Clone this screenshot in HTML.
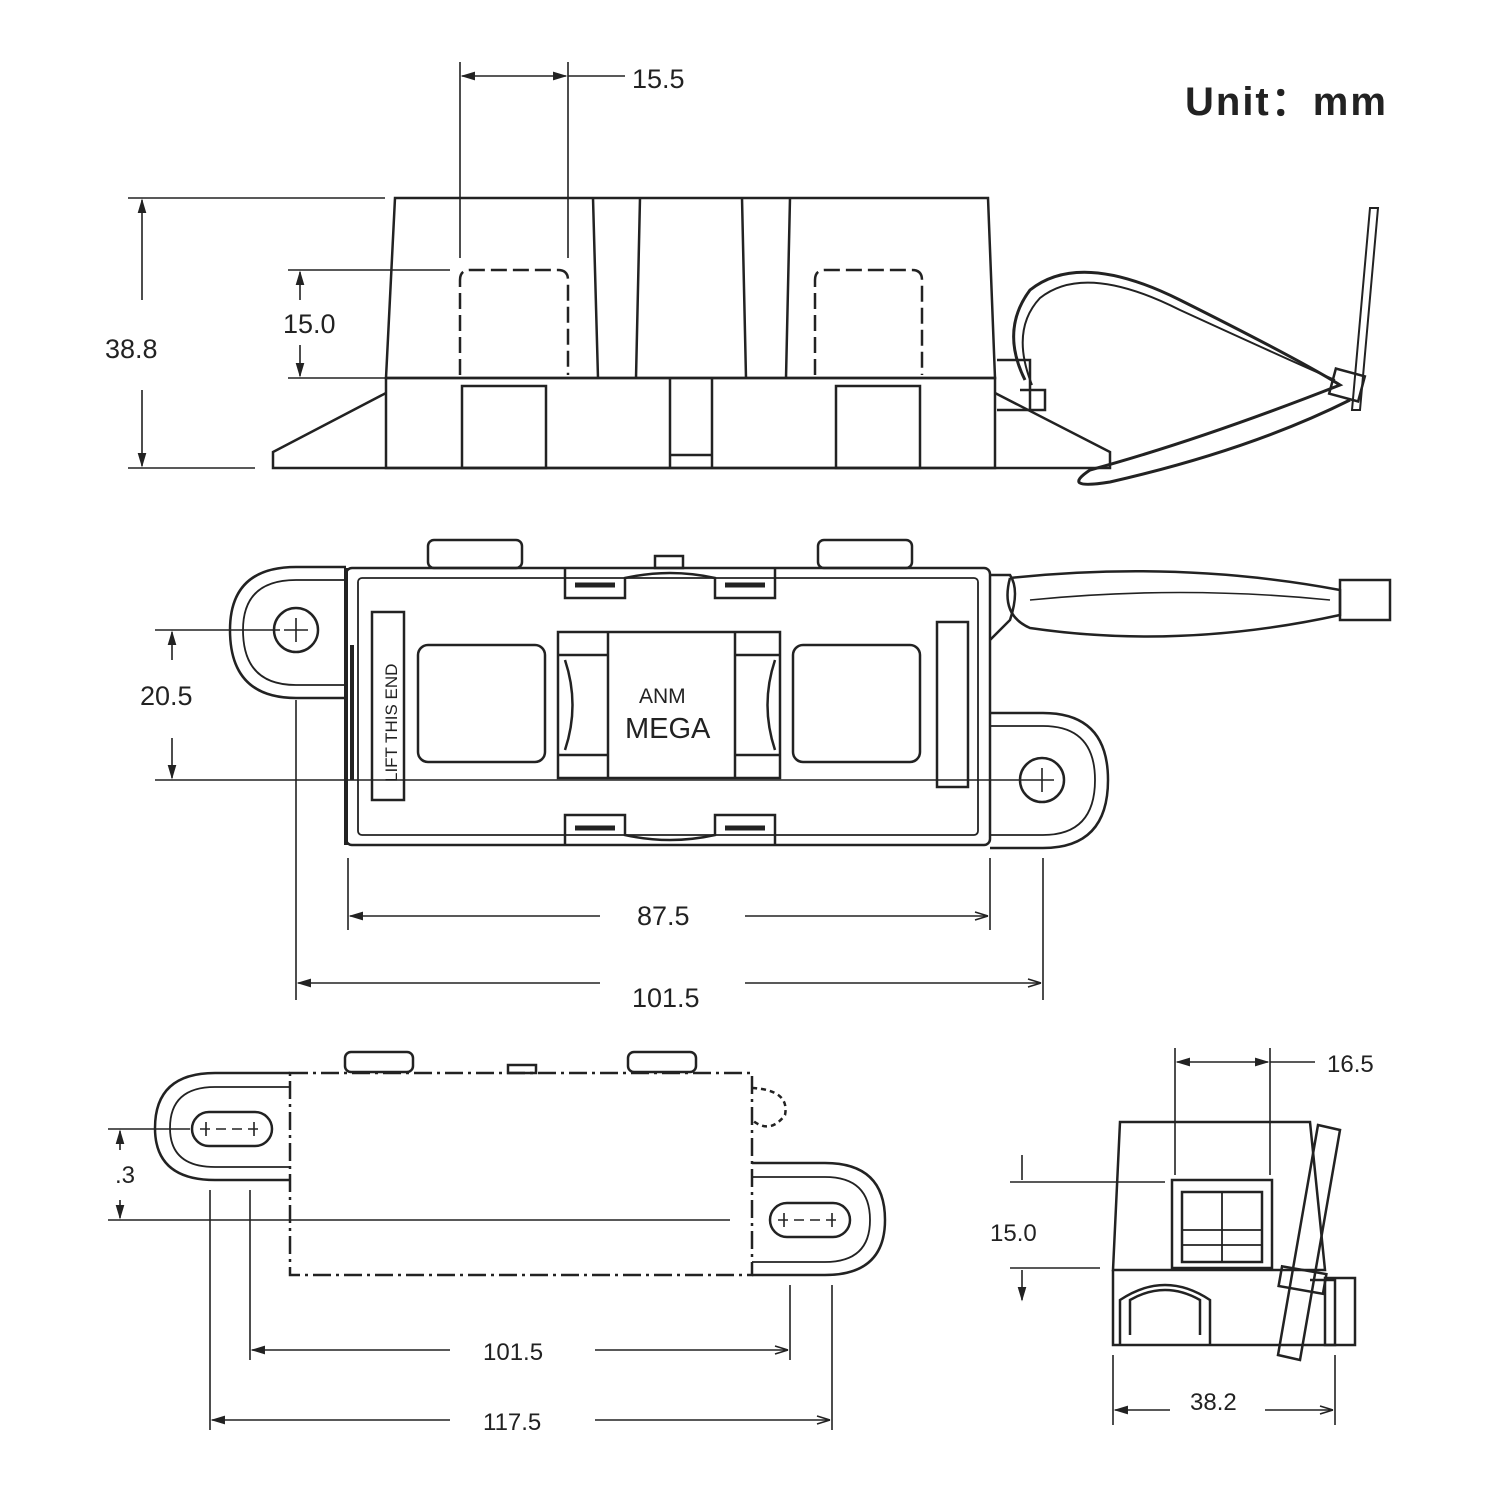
<!DOCTYPE html>
<html><head><meta charset="utf-8"><style>
html,body{margin:0;padding:0;background:#fff}
svg{display:block}
text{font-family:"Liberation Sans","DejaVu Sans",sans-serif;fill:#222}
</style></head><body>
<svg width="1500" height="1500" viewBox="0 0 1500 1500" xmlns="http://www.w3.org/2000/svg">
<defs>
<marker id="a" viewBox="0 0 10 10" refX="9" refY="5" markerWidth="9" markerHeight="9" orient="auto-start-reverse"><path d="M0,2 L10,5 L0,8 z" fill="#222"/></marker>
</defs>
<g stroke="#222" stroke-width="2.5" fill="none">
<path d="M395,198 L988,198 L995,378 L386,378 Z"/>
<path d="M386,378 L995,378 L995,468 L386,468 Z"/>
<path d="M386,393 L273,452 L273,468 L1110,468 L1110,452 L995,393"/>
<path d="M593,198 L598,378 M640,198 L636,378 M742,198 L746,378 M790,198 L786,378"/>
<path d="M460,375 L460,280 Q460,270 470,270 L558,270 Q568,270 568,280 L568,375 M815,375 L815,280 Q815,270 825,270 L912,270 Q922,270 922,280 L922,375" stroke-dasharray="16,6"/>
<rect x="462" y="386" width="84" height="82"/>
<rect x="836" y="386" width="84" height="82"/>
<path d="M670,378 L670,468 M712,378 L712,468 M670,455 L712,455"/>
<path d="M997,360 L1030,360 L1030,410 L997,410 M1020,390 L1045,390 L1045,410 L1020,410"/>
<path d="M1025,380 Q1000,330 1030,290 Q1080,250 1180,300 Q1300,360 1340,385 Q1200,440 1090,470 Q1060,490 1110,482 Q1250,450 1350,400" stroke-width="3"/>
<path d="M1032,385 Q1010,330 1040,298 Q1085,262 1180,310 Q1300,365 1335,380" stroke-width="2"/>
<path d="M1370,208 L1378,208 L1360,410 L1352,410 Z" stroke-width="2"/>
<rect x="1332" y="372" width="30" height="26" transform="rotate(15 1347 385)"/>
<g stroke-width="1.6">
<path d="M460,62 L460,258 M568,62 L568,258 M568,76 L625,76"/>
<path d="M462,76 L566,76" marker-start="url(#a)" marker-end="url(#a)"/>
<path d="M128,198 L385,198 M128,468 L255,468"/>
<path d="M142,200 L142,300 M142,390 L142,466" marker-start="url(#a)" marker-end="url(#a)"/>
<path d="M288,270 L450,270 M288,378 L385,378"/>
<path d="M300,272 L300,300 M300,345 L300,376" marker-start="url(#a)" marker-end="url(#a)"/>
</g>
<rect x="346" y="568" width="644" height="277" rx="6"/>
<rect x="358" y="578" width="620" height="257" rx="4" stroke-width="1.8"/>
<path d="M346,568 L346,845 M352,645 L352,780" stroke-width="4"/>
<path d="M346,567 L296,567 Q230,567 230,630 Q230,698 296,698 L346,698"/>
<path d="M346,580 L296,580 Q243,580 243,630 Q243,685 296,685 L346,685" stroke-width="1.8"/>
<circle cx="296" cy="630" r="22"/>
<path d="M284,630 L308,630 M296,618 L296,642" stroke-width="1.6"/>
<path d="M990,713 L1043,713 Q1108,713 1108,780 Q1108,848 1043,848 L990,848"/>
<path d="M990,726 L1043,726 Q1095,726 1095,780 Q1095,835 1043,835 L990,835" stroke-width="1.8"/>
<circle cx="1042" cy="780" r="22"/>
<path d="M1030,780 L1054,780 M1042,768 L1042,792" stroke-width="1.6"/>
<path d="M990,575 L1010,575 Q1020,590 1010,620 L990,640"/>
<path d="M1010,578 Q1180,560 1340,590 L1340,615 Q1180,650 1030,628 Q1000,615 1010,578"/>
<path d="M1030,600 Q1180,585 1330,600" stroke-width="1.6"/>
<rect x="1340" y="580" width="50" height="40"/>
<rect x="428" y="540" width="94" height="28" rx="6"/>
<rect x="818" y="540" width="94" height="28" rx="6"/>
<rect x="655" y="556" width="28" height="12"/>
<path d="M565,568 L565,598 L625,598 L625,578 Q670,568 715,578 L715,598 L775,598 L775,568"/>
<path d="M565,845 L565,815 L625,815 L625,835 Q670,845 715,835 L715,815 L775,815 L775,845"/>
<path d="M575,585 L615,585 M725,585 L765,585 M575,828 L615,828 M725,828 L765,828" stroke-width="5"/>
<rect x="418" y="645" width="127" height="117" rx="10"/>
<rect x="793" y="645" width="127" height="117" rx="10"/>
<rect x="558" y="632" width="222" height="146"/>
<path d="M608,632 L608,778 M735,632 L735,778 M558,655 L608,655 M558,755 L608,755 M735,655 L780,655 M735,755 L780,755"/>
<path d="M565,660 Q580,705 565,750 M775,660 Q760,705 775,750"/>
<rect x="372" y="612" width="32" height="188"/>
<rect x="937" y="622" width="31" height="165"/>
<g stroke-width="1.6">
<path d="M155,630 L280,630 M155,780 L1030,780"/>
<path d="M172,632 L172,660 M172,738 L172,778" marker-start="url(#a)" marker-end="url(#a)"/>
<path d="M296,700 L296,1000 M348,858 L348,930 M990,858 L990,930 M1043,858 L1043,1000"/>
<path d="M350,916 L600,916 M745,916 L988,916" marker-start="url(#a)"/>
<path d="M298,983 L600,983 M745,983 L1041,983" marker-start="url(#a)"/>
<path d="M988,916 L975,912 M988,916 L975,920 M1041,983 L1028,979 M1041,983 L1028,987"/>
</g>
<path d="M290,1073 L752,1073 L752,1275 L290,1275 Z" stroke-dasharray="18,5,3,5"/>
<path d="M290,1073 L215,1073 Q155,1073 155,1128 Q155,1180 215,1180 L290,1180"/>
<path d="M290,1087 L215,1087 Q170,1087 170,1128 Q170,1167 215,1167 L290,1167" stroke-width="1.8"/>
<rect x="192" y="1112" width="80" height="34" rx="17"/>
<path d="M752,1163 L825,1163 Q885,1163 885,1220 Q885,1275 825,1275 L752,1275"/>
<path d="M752,1177 L825,1177 Q870,1177 870,1220 Q870,1262 825,1262 L752,1262" stroke-width="1.8"/>
<rect x="770" y="1203" width="80" height="34" rx="17"/>
<path d="M752,1088 Q790,1090 785,1115 Q770,1135 752,1120" stroke-dasharray="5,4"/>
<rect x="345" y="1052" width="68" height="20" rx="6"/>
<rect x="628" y="1052" width="68" height="20" rx="6"/>
<rect x="508" y="1065" width="28" height="8"/>
<g stroke-width="1.6">
<path d="M200,1129 L264,1129 M778,1220 L842,1220" stroke-dasharray="10,6"/>
<path d="M206,1122 L206,1136 M254,1122 L254,1136 M784,1213 L784,1227 M832,1213 L832,1227"/>
<path d="M108,1129 L190,1129 M108,1220 L730,1220"/>
<path d="M120,1131 L120,1150 M120,1200 L120,1218" marker-start="url(#a)" marker-end="url(#a)"/>
<path d="M210,1190 L210,1430 M250,1190 L250,1360 M790,1285 L790,1360 M832,1285 L832,1430"/>
<path d="M252,1350 L450,1350 M595,1350 L788,1350" marker-start="url(#a)"/>
<path d="M212,1420 L450,1420 M595,1420 L830,1420" marker-start="url(#a)"/>
<path d="M788,1350 L775,1346 M788,1350 L775,1354 M830,1420 L817,1416 M830,1420 L817,1424"/>
</g>
<path d="M1120,1122 L1310,1122 L1325,1270 L1113,1270 Z"/>
<path d="M1113,1270 L1113,1345 L1335,1345 L1335,1280 L1310,1280"/>
<path d="M1120,1345 L1120,1300 Q1165,1270 1210,1300 L1210,1345 M1130,1335 L1130,1300 Q1165,1280 1200,1300 L1200,1335"/>
<rect x="1172" y="1180" width="100" height="88"/>
<rect x="1182" y="1192" width="80" height="70"/>
<path d="M1222,1192 L1222,1262 M1182,1230 L1262,1230 M1182,1245 L1262,1245" stroke-width="1.8"/>
<path d="M1318,1125 L1340,1130 L1300,1360 L1278,1355 Z"/>
<rect x="1280" y="1270" width="45" height="20" transform="rotate(10 1302 1280)"/>
<rect x="1325" y="1278" width="30" height="67"/>
<g stroke-width="1.6">
<path d="M1175,1048 L1175,1175 M1270,1048 L1270,1175 M1270,1062 L1315,1062"/>
<path d="M1177,1062 L1268,1062" marker-start="url(#a)" marker-end="url(#a)"/>
<path d="M1010,1182 L1165,1182 M1010,1268 L1100,1268"/>
<path d="M1022,1155 L1022,1180 M1022,1270 L1022,1300" marker-end="url(#a)"/>
<path d="M1113,1355 L1113,1425 M1335,1355 L1335,1425"/>
<path d="M1115,1410 L1170,1410 M1265,1410 L1333,1410" marker-start="url(#a)"/>
<path d="M1333,1410 L1320,1406 M1333,1410 L1320,1414"/>
</g>
</g>
<text x="1185" y="115" font-size="40" font-weight="bold" letter-spacing="2" fill="#333">Unit：mm</text>
<text x="632" y="88" font-size="27">15.5</text>
<text x="105" y="358" font-size="27">38.8</text>
<text x="283" y="333" font-size="27">15.0</text>
<text x="140" y="705" font-size="27">20.5</text>
<text x="637" y="925" font-size="27">87.5</text>
<text x="632" y="1007" font-size="27">101.5</text>
<text x="639" y="703" font-size="21">ANM</text>
<text x="625" y="738" font-size="29">MEGA</text>
<text transform="translate(397,782) rotate(-90)" font-size="17">LIFT THIS END</text>
<text x="115" y="1183" font-size="24">.3</text>
<text x="483" y="1360" font-size="24">101.5</text>
<text x="483" y="1430" font-size="24">117.5</text>
<text x="1327" y="1072" font-size="24">16.5</text>
<text x="990" y="1241" font-size="24">15.0</text>
<text x="1190" y="1410" font-size="24">38.2</text>
</svg>
</body></html>
